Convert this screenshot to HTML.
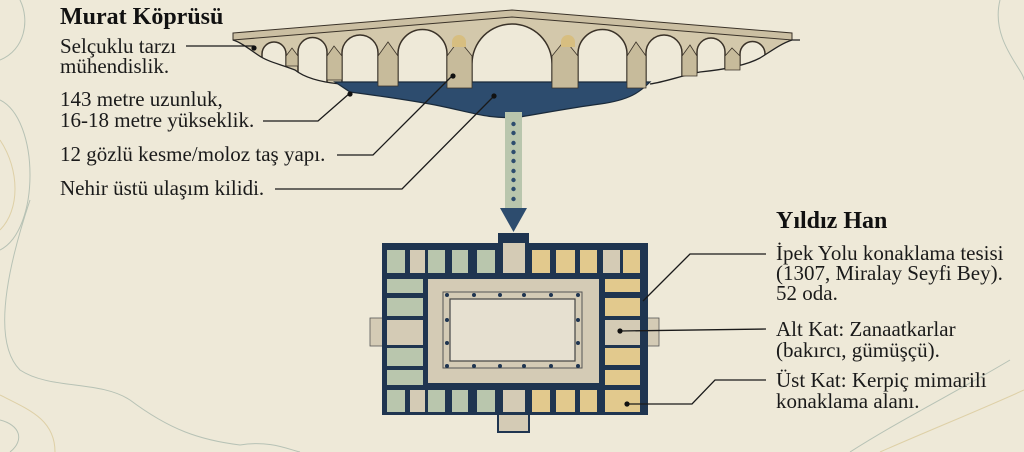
<!DOCTYPE html>
<html><head><meta charset="utf-8"><style>
html,body{margin:0;padding:0;background:#eee9d8;}
svg{display:block}
.t{font-family:"Liberation Serif",serif;font-size:21px;fill:#1a1a1a}
.h{font-family:"Liberation Serif",serif;font-size:24px;font-weight:bold;fill:#111}
</style></head><body>
<svg width="1024" height="452" viewBox="0 0 1024 452" xmlns="http://www.w3.org/2000/svg">
<defs>
<clipPath id="bc"><path d="M233,33 L512,10 L792,33 L792,40 C780,44 770,52 760,58 C745,66 720,70 700,72 C680,76 665,82 650,84 L340,84 C320,82 305,78 295,70 C280,64 268,62 258,55 C248,48 240,42 233,40 Z"/></clipPath>
</defs>
<rect width="1024" height="452" fill="#eee9d8"/>
<g fill="none" stroke="#a9b8ac" stroke-width="1" opacity="0.8">
<path d="M0,60 C25,50 30,20 20,0"/>
<path d="M30,200 C10,260 -10,340 20,370 C50,390 100,380 130,400 C170,430 200,440 240,445 C270,440 290,450 300,452"/>
<path d="M0,420 C20,425 25,440 10,452"/>
<path d="M0,100 C40,120 40,230 0,250"/>
<path d="M850,452 C900,420 960,390 1010,360"/>
<path d="M1000,0 C990,40 1024,70 1024,80"/>
</g>
<g fill="none" stroke="#d9c99a" stroke-width="1" opacity="0.8">
<path d="M0,395 C30,410 55,420 55,452"/>
<path d="M880,452 C930,430 980,410 1024,390"/>
<path d="M0,140 C20,170 20,210 0,230"/>
</g>
<path d="M233,33 L512,10 L792,33 L792,40 C780,44 770,52 760,58 C745,66 720,70 700,72 C680,76 665,82 650,84 L340,84 C320,82 305,78 295,70 C280,64 268,62 258,55 C248,48 240,42 233,40 Z" fill="#d3c8ab"/>
<g clip-path="url(#bc)" fill="#eee9d8" stroke="#3a3228" stroke-width="1.5">
<path d="M262,90 L262,54 A12,12 0 0 1 286,54 L286,90"/>
<path d="M298,90 L298,52 A14.5,14.5 0 0 1 327,52 L327,90"/>
<path d="M342,90 L342,53 A18,18 0 0 1 378,53 L378,90"/>
<path d="M398,90 L398,54 A24.5,24.5 0 0 1 447,54 L447,90"/>
<path d="M472,90 L472,64 A40,40 0 0 1 552,64 L552,90"/>
<path d="M578,90 L578,54 A24.5,24.5 0 0 1 627,54 L627,90"/>
<path d="M646,90 L646,53 A18,18 0 0 1 682,53 L682,90"/>
<path d="M697,90 L697,52 A14,14 0 0 1 725,52 L725,90"/>
<path d="M740,90 L740,54 A12.5,12.5 0 0 1 765,54 L765,90"/>
</g>
<path d="M233,33 L512,10 L792,33 L792,40 L512,17 L233,40 Z" fill="#cbbf a2" stroke="#3a3228" stroke-width="1" style="fill:#cbbfa2"/>
<path d="M233,40 C240,42 248,48 258,55 C268,62 280,64 295,70 C305,78 320,82 340,84 M650,84 C665,82 680,76 700,72 C720,70 745,66 760,58 C770,52 780,44 792,40 L800,40" fill="none" stroke="#222" stroke-width="1.3"/>
<path d="M335,82 L650,82 C640,92 630,100 600,104 C570,108 550,112 520,117 C490,120 470,112 440,106 C410,100 380,96 350,92 Z" fill="#2d4c6e" stroke="#1a2a3a" stroke-width="1.2"/>
<g fill="#c7bb9b" stroke="#3a3228" stroke-width="0.8">
<path d="M286,56 L292,48 L298,56 L298,66 L286,66Z"/>
<path d="M327,56 L334,46 L342,56 L342,80 L327,80Z"/>
<path d="M378,56 L388,42 L398,56 L398,86 L378,86Z"/>
<path d="M447,56 L459,40 L472,56 L472,88 L447,88Z"/>
<path d="M552,56 L565,40 L578,56 L578,88 L552,88Z"/>
<path d="M627,56 L636,42 L646,56 L646,88 L627,88Z"/>
<path d="M682,56 L690,45 L697,56 L697,76 L682,76Z"/>
<path d="M725,56 L732,48 L740,56 L740,70 L725,70Z"/>
</g>
<path d="M452,42 a7,7 0 0 1 14,0 v5 h-14z M561,42 a7,7 0 0 1 14,0 v5 h-14z" fill="#d7be80"/>
<rect x="505" y="112" width="17" height="98" fill="#b9c6ad"/>
<g fill="#2d4c6e">
<circle cx="513.5" cy="124" r="2.2"/><circle cx="513.5" cy="133" r="2.2"/><circle cx="513.5" cy="143" r="2.2"/><circle cx="513.5" cy="152" r="2.2"/><circle cx="513.5" cy="161" r="2.2"/><circle cx="513.5" cy="171" r="2.2"/><circle cx="513.5" cy="180" r="2.2"/><circle cx="513.5" cy="189" r="2.2"/><circle cx="513.5" cy="199" r="2.2"/>
<path d="M500,208 L527,208 L513.5,232Z"/>
</g>
<rect x="370" y="318" width="14" height="28" fill="#d4cbb5" stroke="#555" stroke-width="0.8"/>
<rect x="646" y="318" width="13" height="28" fill="#d4cbb5" stroke="#555" stroke-width="0.8"/>
<rect x="498" y="410" width="31" height="22" fill="#d4cbb5" stroke="#1f3550" stroke-width="2"/>
<rect x="498" y="233" width="31" height="14" fill="#1f3550"/>
<rect x="382" y="243" width="266" height="172" fill="#1f3550"/>
<g fill="#b9c6ad">
<rect x="387" y="250" width="18" height="23"/><rect x="428" y="250" width="17" height="23"/><rect x="452" y="250" width="16" height="23"/><rect x="477" y="250" width="18" height="23"/>
<rect x="387" y="279" width="36" height="14"/><rect x="387" y="298" width="36" height="18"/><rect x="387" y="348" width="36" height="18"/><rect x="387" y="370" width="36" height="15"/>
<rect x="387" y="390" width="18" height="22"/><rect x="428" y="390" width="17" height="22"/><rect x="452" y="390" width="16" height="22"/><rect x="477" y="390" width="18" height="22"/>
</g>
<g fill="#e2c98d">
<rect x="532" y="250" width="18" height="23"/><rect x="556" y="250" width="19" height="23"/><rect x="580" y="250" width="17" height="23"/><rect x="623" y="250" width="17" height="23"/>
<rect x="605" y="279" width="35" height="13"/><rect x="605" y="298" width="35" height="18"/><rect x="605" y="348" width="35" height="17"/><rect x="605" y="370" width="35" height="15"/>
<rect x="532" y="390" width="18" height="22"/><rect x="556" y="390" width="19" height="22"/><rect x="580" y="390" width="17" height="22"/><rect x="605" y="390" width="35" height="22"/>
</g>
<g fill="#d4cbb5">
<rect x="410" y="250" width="15" height="23"/><rect x="503" y="243" width="22" height="30"/><rect x="603" y="250" width="17" height="23"/>
<rect x="387" y="320" width="36" height="25"/><rect x="605" y="320" width="35" height="25"/>
<rect x="410" y="390" width="15" height="22"/><rect x="503" y="390" width="22" height="22"/>
<rect x="428" y="279" width="171" height="104"/>
</g>
<rect x="443" y="292" width="139" height="76" fill="none" stroke="#555" stroke-width="1"/>
<rect x="450" y="299" width="125" height="62" fill="#e6e0d0" stroke="#444" stroke-width="1.2"/>
<g fill="#1f3550">
<circle cx="447" cy="295" r="2"/><circle cx="474" cy="295" r="2"/><circle cx="500" cy="295" r="2"/><circle cx="524" cy="295" r="2"/><circle cx="551" cy="295" r="2"/><circle cx="578" cy="295" r="2"/>
<circle cx="447" cy="366" r="2"/><circle cx="474" cy="366" r="2"/><circle cx="500" cy="366" r="2"/><circle cx="524" cy="366" r="2"/><circle cx="551" cy="366" r="2"/><circle cx="578" cy="366" r="2"/>
<circle cx="447" cy="320" r="2"/><circle cx="447" cy="343" r="2"/><circle cx="578" cy="320" r="2"/><circle cx="578" cy="343" r="2"/>
</g>
<g fill="none" stroke="#1a1a1a" stroke-width="1.3">
<path d="M186,46 L254,46"/>
<path d="M263,121 L318,121 L350,93"/>
<path d="M337,155 L373,155 L452,76"/>
<path d="M275,189 L402,189 L494,96"/>
<path d="M643,301 L690,254 L766,254"/>
<path d="M620,331 L766,329"/>
<path d="M627,404 L692,404 L715,380 L766,380"/>
</g>
<g fill="#111">
<circle cx="254" cy="48" r="2.6"/><circle cx="350" cy="94" r="2.6"/><circle cx="453" cy="76" r="2.6"/><circle cx="494" cy="96" r="2.6"/><circle cx="620" cy="331" r="2.6"/><circle cx="627" cy="404" r="2.6"/>
</g>
<text class="h" x="60" y="24">Murat Köprüsü</text>
<text class="t" x="60" y="53">Selçuklu tarzı</text>
<text class="t" x="60" y="73">mühendislik.</text>
<text class="t" x="60" y="106">143 metre uzunluk,</text>
<text class="t" x="60" y="127">16-18 metre yükseklik.</text>
<text class="t" x="60" y="161">12 gözlü kesme/moloz taş yapı.</text>
<text class="t" x="60" y="195">Nehir üstü ulaşım kilidi.</text>
<text class="h" x="776" y="228">Yıldız Han</text>
<text class="t" x="776" y="260">İpek Yolu konaklama tesisi</text>
<text class="t" x="776" y="280">(1307, Miralay Seyfi Bey).</text>
<text class="t" x="776" y="300">52 oda.</text>
<text class="t" x="776" y="336">Alt Kat: Zanaatkarlar</text>
<text class="t" x="776" y="357">(bakırcı, gümüşçü).</text>
<text class="t" x="776" y="387">Üst Kat: Kerpiç mimarili</text>
<text class="t" x="776" y="408">konaklama alanı.</text>
</svg>
</body></html>
